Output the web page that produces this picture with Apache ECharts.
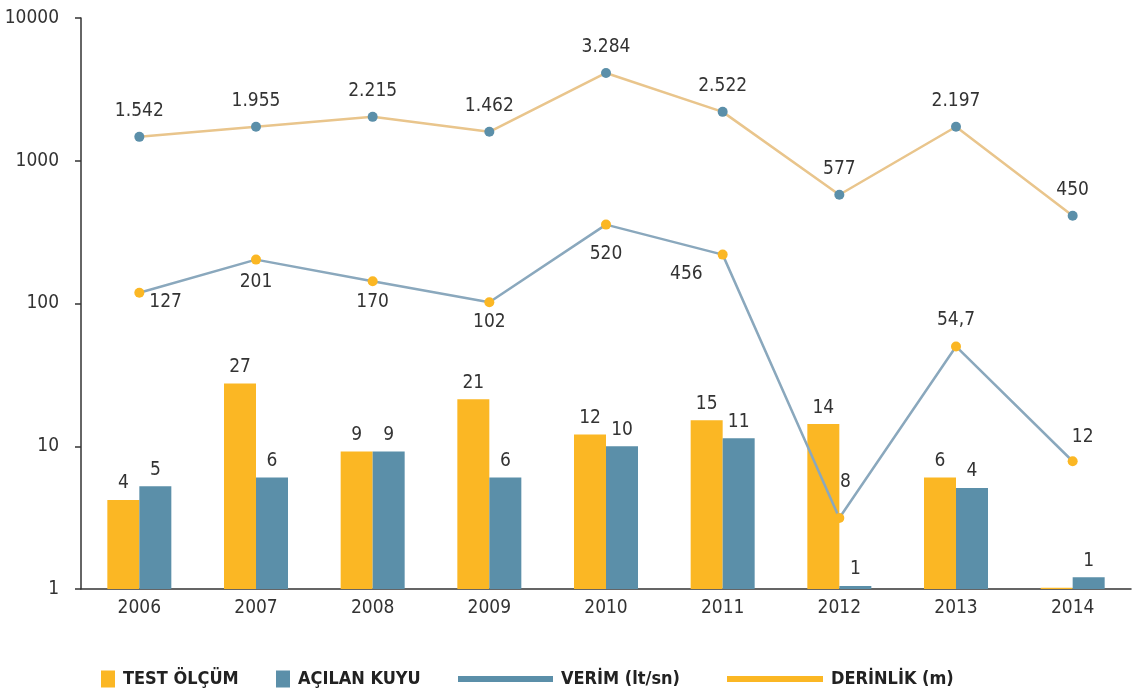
<!DOCTYPE html>
<html>
<head>
<meta charset="utf-8">
<script src="https://cdn.jsdelivr.net/npm/echarts@6/dist/echarts.min.js"></script>
<style>
  html, body { margin: 0; padding: 0; background: #fff; }
  #main { width: 1133px; height: 693px; }
</style>
</head>
<body>
<div id="main"></div>
<script>
// yıllar
var years = ['2006', '2007', '2008', '2009', '2010', '2011', '2012', '2013', '2014'];
var yTicks = ['1', '10', '100', '1000', '10000'];

// bar değerleri (grafikteki yükseklikler) ve yazılan etiketler
var testOlcum = [4.2, 27.5, 9.2, 21.3, 12.1, 15.2, 14.3, 6.05, 1.02];
var testLabels = ['4', '27', '9', '21', '12', '15', '14', '6', ''];
var acilanKuyu = [5.25, 6.05, 9.2, 6.05, 10, 11.4, 1.05, 5.1, 1.21];
var kuyuLabels = ['5', '6', '9', '6', '10', '11', '1', '4', '1'];

// çizgiler: noktaların konumu + üstlerindeki yazılar
var verim = [119, 203, 143, 102, 357, 220, 3.14, 50, 7.85];
var verimLabels = ['127', '201', '170', '102', '520', '456', '8', '54,7', '12'];
var derinlik = [1470, 1730, 2030, 1595, 4120, 2200, 578, 1730, 412];
var derinlikLabels = ['1.542', '1.955', '2.215', '1.462', '3.284', '2.522', '577', '2.197', '450'];

var FONT = "'DejaVu Sans Condensed', 'Liberation Sans Narrow', sans-serif";
var ORANGE = '#fbb724';
var BLUE = '#5b8fa9';

// etiket yerleşimi (verim çizgisi)
var verimLabelPos = [
  { position: 'right', offset: [0, 9] },
  { position: 'bottom', distance: 8 },
  { position: 'bottom', distance: 6 },
  { position: 'bottom', distance: 5 },
  { position: 'bottom', distance: 15 },
  { position: 'left', offset: [-10, 19] },
  { position: 'top', distance: 22, offset: [6, 0] },
  { position: 'top', distance: 12 },
  { position: 'top', distance: 10, offset: [10, 0] }
];

var chart = echarts.init(document.getElementById('main'));

function legendItem(left, name, icon, w, h, color) {
  return {
    left: left,
    top: 665,
    icon: icon,
    itemWidth: w,
    itemHeight: h,
    itemGap: 0,
    selectedMode: false,
    data: [{ name: name, itemStyle: { color: color, borderWidth: 0 } }],
    textStyle: { fontFamily: FONT, fontSize: 18, fontWeight: 'bold', color: '#222', padding: [0, 0, 0, 3] }
  };
}

var option = {
  backgroundColor: '#fff',
  animation: false,
  textStyle: { fontFamily: FONT },
  legend: [
    legendItem(96, 'TEST ÖLÇÜM', 'rect', 14, 17, ORANGE),
    legendItem(271, 'AÇILAN KUYU', 'rect', 14, 17, BLUE),
    legendItem(453, 'VERİM (lt/sn)', 'rect', 95, 6, BLUE),
    legendItem(722, 'DERİNLİK (m)', 'rect', 96, 6, ORANGE)
  ],
  grid: { left: 81, right: 2, top: 18, bottom: 104, outerBoundsMode: 'none', containLabel: false },
  xAxis: {
    type: 'category',
    data: years,
    axisLine: { lineStyle: { color: '#333', width: 1.5 } },
    axisTick: { length: 7, lineStyle: { color: '#333', width: 1.5 } },
    axisLabel: { color: '#333', fontSize: 19, margin: 10, fontFamily: FONT }
  },
  yAxis: {
    type: 'log',
    logBase: 10,
    min: 1,
    max: 10000,
    axisLine: { show: true, lineStyle: { color: '#333', width: 1.5 } },
    axisTick: { show: true, length: 6, lineStyle: { color: '#333', width: 1.5 } },
    splitLine: { show: false },
    axisLabel: {
      color: '#333', fontSize: 19, margin: 22, fontFamily: FONT,
      formatter: function (v) { return yTicks[Math.round(Math.log10(v))]; }
    }
  },
  series: [
    {
      name: 'TEST ÖLÇÜM',
      type: 'bar',
      barWidth: 32,
      barGap: '0%',
      itemStyle: { color: ORANGE },
      label: {
        show: true, position: 'top', distance: 7,
        color: '#333', fontSize: 19, fontFamily: FONT,
        formatter: function (p) { return testLabels[p.dataIndex]; }
      },
      data: testOlcum
    },
    {
      name: 'AÇILAN KUYU',
      type: 'bar',
      barWidth: 32,
      itemStyle: { color: BLUE },
      label: {
        show: true, position: 'top', distance: 7,
        color: '#333', fontSize: 19, fontFamily: FONT,
        formatter: function (p) { return kuyuLabels[p.dataIndex]; }
      },
      data: acilanKuyu
    },
    {
      name: 'VERİM (lt/sn)',
      type: 'line',
      symbol: 'circle',
      symbolSize: 10,
      z: 5,
      lineStyle: { color: '#8aa8bd', width: 2.5 },
      itemStyle: { color: ORANGE },
      label: { show: true, color: '#333', fontSize: 19, fontFamily: FONT },
      data: verim.map(function (v, i) {
        return {
          value: v,
          label: Object.assign({ formatter: verimLabels[i] }, verimLabelPos[i])
        };
      })
    },
    {
      name: 'DERİNLİK (m)',
      type: 'line',
      symbol: 'circle',
      symbolSize: 10,
      z: 5,
      lineStyle: { color: '#e9c58c', width: 2.5 },
      itemStyle: { color: BLUE },
      label: {
        show: true, position: 'top', distance: 11,
        color: '#333', fontSize: 19, fontFamily: FONT,
        formatter: function (p) { return derinlikLabels[p.dataIndex]; }
      },
      data: derinlik
    }
  ]
};

chart.setOption(option);
</script>
</body>
</html>
